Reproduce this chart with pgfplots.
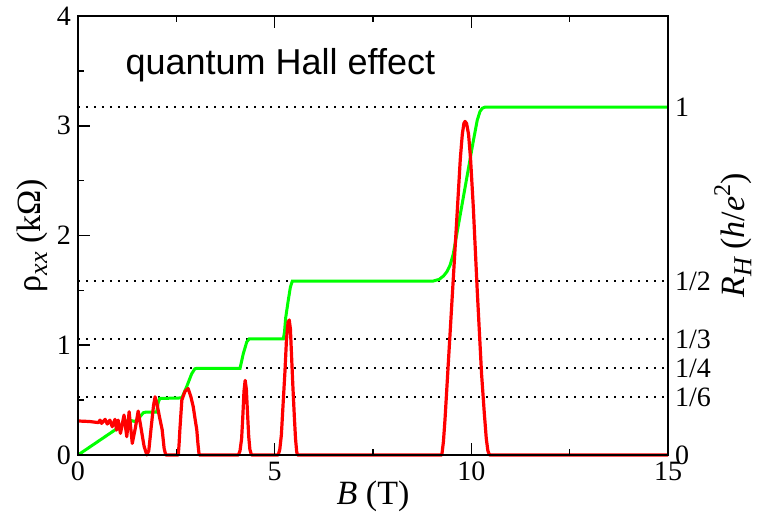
\documentclass[border=0pt]{standalone}
\usepackage{fontspec}
\setmainfont{Liberation Serif}
\newfontfamily\arialfont{Liberation Sans}
\usepackage{pgfplots}
\pgfplotsset{compat=1.18}

\newcommand{\lsub}[1]{\raisebox{-0.45ex}{\fontsize{13}{13}\selectfont\itshape #1}}
\newcommand{\lsup}[1]{\raisebox{0.9ex}{\fontsize{12}{12}\selectfont #1}}

\begin{document}
\begin{tikzpicture}
\pgfplotsset{
  base/.style={
    scale only axis, width=295pt, height=219.5pt,
    xmin=0, xmax=15, ymin=0, ymax=4,
    axis line style={line width=1pt},
    tick style={line width=0.8pt, black},
    tick align=inside,
    major tick length=6pt, minor tick length=3pt,
    tick label style={font=\fontsize{14}{16}\selectfont},
    /pgf/number format/assume math mode=true,
    label style={font=\fontsize{17}{20}\selectfont},
  },
  dotline/.style={black, line width=1pt, dash pattern=on 1pt off 3pt},
}
\begin{axis}[base, axis on top, clip=false,
  xtick={0,5,10,15}, minor x tick num=1,
  ytick={0,1,2,3,4}, minor y tick num=1, ytick pos=left,
  xlabel={\textit{B} (T)},
  ylabel={ρ\lsub{xx} (kΩ)},
  xlabel style={at={(axis description cs:0.5,-0.095)}, anchor=center},
  ylabel style={at={(axis description cs:-0.078,0.5)}, anchor=center},
]
% plateau levels h/e^2 fractions
\addplot[dotline] coordinates {(0,3.17) (15,3.17)};
\addplot[dotline] coordinates {(0,1.585) (15,1.585)};
\addplot[dotline] coordinates {(0,1.057) (15,1.057)};
\addplot[dotline] coordinates {(0,0.79) (15,0.79)};
\addplot[dotline] coordinates {(0,0.528) (15,0.528)};

% Hall resistance
\addplot[green, line width=1.5pt] coordinates {
  (0,0) (1.03,0.25) (1.28,0.32) (1.45,0.305) (1.58,0.35) (1.66,0.385) (1.72,0.39)
  (2.0,0.39) (2.04,0.48) (2.08,0.515) (2.64,0.52) (2.76,0.62) (2.89,0.74) (2.97,0.785)
  (3.02,0.79) (4.12,0.79) (4.20,0.92) (4.29,1.03) (4.35,1.057) (5.22,1.057) (5.25,1.12)
  (5.28,1.25) (5.35,1.42) (5.40,1.53) (5.45,1.585) (9.03,1.585) (9.18,1.60) (9.29,1.63)
  (9.38,1.67) (9.46,1.73) (9.54,1.83) (10.05,2.86) (10.15,3.05) (10.22,3.13) (10.28,3.16)
  (10.35,3.17) (15,3.17)
};

% longitudinal resistivity
\addplot[red, line width=1.6pt, line join=round] coordinates {
  (0,0.31) (0.3,0.305) (0.52,0.295) (0.56,0.318) (0.60,0.288) (0.69,0.325) (0.745,0.282)
  (0.81,0.318) (0.87,0.258) (0.94,0.325) (0.98,0.227) (1.02,0.318) (1.08,0.197) (1.17,0.364)
  (1.24,0.167) (1.30,0.394) (1.38,0.106) (1.46,0.25) (1.53,0.40) (1.60,0.25) (1.68,0.08)
  (1.75,0) (1.80,0.04) (1.86,0.25) (1.92,0.45) (1.96,0.53) (2.0,0.48) (2.07,0.35)
  (2.14,0.23) (2.19,0.06) (2.23,0) (2.55,0) (2.57,0.1) (2.59,0.23) (2.64,0.5) (2.72,0.58)
  (2.80,0.606) (2.87,0.53) (2.93,0.44) (2.98,0.32) (3.02,0.23) (3.05,0.1) (3.08,0)
  (4.08,0) (4.12,0.04) (4.16,0.15) (4.19,0.35) (4.22,0.58) (4.25,0.68) (4.28,0.6)
  (4.31,0.38) (4.34,0.17) (4.37,0.05) (4.41,0)
  (5.09,0) (5.13,0.05) (5.17,0.18) (5.22,0.5) (5.26,0.75) (5.30,1.05) (5.34,1.21)
  (5.37,1.23) (5.40,1.15) (5.43,0.9) (5.46,0.65) (5.50,0.35) (5.53,0.15) (5.56,0.03) (5.58,0)
  (9.25,0) (9.29,0.12) (9.33,0.32) (9.45,1.05) (9.55,1.66) (9.65,2.27) (9.72,2.7)
  (9.77,2.92) (9.81,3.02) (9.84,3.04) (9.88,3.02) (9.93,2.92) (9.98,2.7) (10.05,2.26)
  (10.15,1.5) (10.26,0.74) (10.33,0.38) (10.38,0.15) (10.42,0.04) (10.46,0) (15,0)
};

\node[anchor=base west, inner sep=0pt, font=\arialfont\fontsize{18}{21}\selectfont]
  at (axis cs:1.2,3.47) {quantum Hall effect};
\coordinate (sw) at (rel axis cs:0,0);
\coordinate (ne) at (rel axis cs:1,1);
\end{axis}

\begin{axis}[base, axis x line=none, axis y line*=right,
  ytick={0,0.528,0.79,1.057,1.585,3.17},
  yticklabels={0,1/6,1/4,1/3,1/2,1},
  major tick length=0pt,
  ylabel={\textit{R}\lsub{H} (\textit{h}/\textit{e}\lsup{2})},
  ylabel style={at={(axis description cs:1.11,0.5)}, anchor=center},
]
\end{axis}

\pgfresetboundingbox
\path ([shift={(-39pt,-32pt)}]sw) rectangle ([shift={(46.5pt,8pt)}]ne);
\end{tikzpicture}
\end{document}
